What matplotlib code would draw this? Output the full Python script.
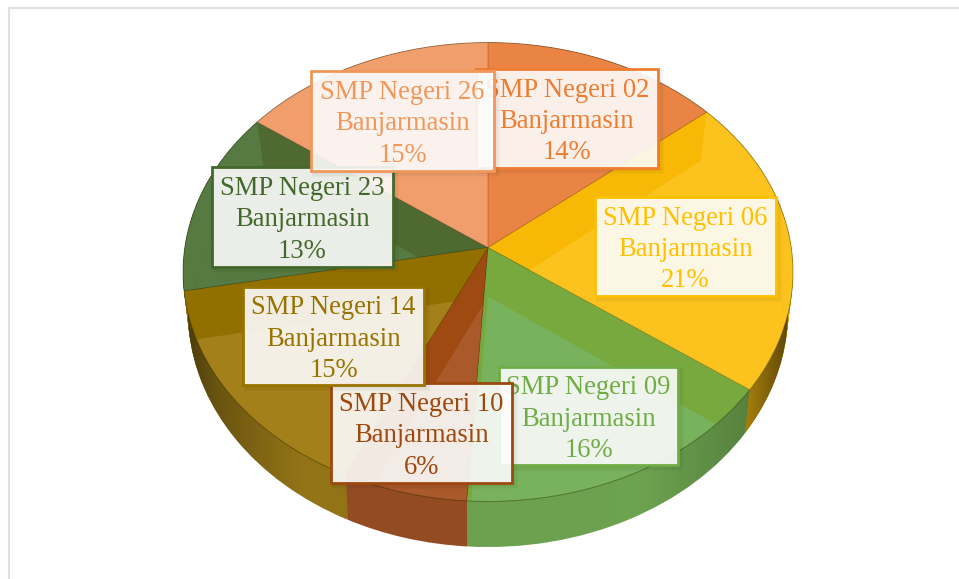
import numpy as np
import matplotlib
matplotlib.use('Agg')
import matplotlib.pyplot as plt
import matplotlib.patches as mpatches
from matplotlib.transforms import Transform

schools = ['SMP Negeri 02', 'SMP Negeri 06', 'SMP Negeri 09', 'SMP Negeri 10',
           'SMP Negeri 14', 'SMP Negeri 23', 'SMP Negeri 26']
city = 'Banjarmasin'
values = [14, 21, 16, 6, 15, 13, 15]

text_cols = ['#ed7d31', '#ffc000', '#70ad47', '#9e480e', '#997300', '#43682b', '#f1975a']
top_cols = ['#e98241', '#f8b906', '#78a93f', '#9e4a10', '#927000', '#4e6a30', '#f09c68']
light_cols = ['#ea8445', '#fcc31e', '#78b25c', '#a9592a', '#a38019', '#567a41', '#f09f6c']
side_cols = ['#c96a2a', '#d9a510', '#70a852', '#9a5024', '#9a7a18', '#4a6a30', '#d08050']

# label boxes in pixels: left, top, right, bottom
boxes = [(476, 69, 658, 168), (595, 197, 776, 296), (499, 367, 678, 465),
         (331, 383, 512, 483), (243, 287, 424, 385), (212, 167, 393, 267),
         (311, 71, 494, 171)]

W, H = 959, 579
C = 0.1068  # perspective of the disc


class Persp(Transform):
    # unit pie circle to an ellipse seen at an angle, in pixels
    input_dims = 2
    output_dims = 2

    def __init__(self, cx, cy, rx, ry, dy=0):
        super().__init__()
        self.cx, self.rx, self.ry = cx, rx, ry
        self.apex = cy - ry * C + dy

    def transform_non_affine(self, pts):
        pts = np.asarray(pts)
        d = 1 + C * pts[:, 1]
        x = self.cx + self.rx * np.sqrt(1 - C ** 2) * pts[:, 0] / d
        y = self.apex - self.ry * (1 - C ** 2) * pts[:, 1] / d
        return np.column_stack([x, y])


fig = plt.figure(figsize=(W / 100, H / 100), dpi=100)
ax = fig.add_axes([0, 0, 1, 1])


def draw_pie(tr, cols, z, **kw):
    wedges, _ = ax.pie(values, colors=cols, startangle=90, counterclock=False, **kw)
    for w in wedges:
        w.set_transform(tr + ax.transData)
        w.set_zorder(z)
    return wedges


# side wall, stacked from the bottom up
n = 30
for i in range(n):
    f = i / (n - 1)
    tr = Persp(488, 312 - 40 * f, 300 + 5 * f, 235 - 5.5 * f)
    draw_pie(tr, side_cols, 2 + f * 0.5)

# side shading, dark at both ends
bottom = Persp(488, 312, 300, 235)
grad = np.interp(np.linspace(184, 794, 300), [184, 215, 300, 640, 745, 794], [0.52, 0.32, 0.05, 0.03, 0.22, 0.6])
rgba = np.zeros((1, 300, 4))
rgba[..., 3] = grad
im = ax.imshow(rgba, extent=(184, 794, 560, 250), aspect='auto', zorder=3)
clip = mpatches.Circle((0, 0), 1, transform=bottom + ax.transData, fc='none', ec='none')
ax.add_patch(clip)
im.set_clip_path(clip)

# top of the disc: darker base, the lighter bevel shifted down inside every slice
top = Persp(488, 272, 305, 229.5)
inner = Persp(488, 272, 296, 229.5, dy=49)
top_w = draw_pie(top, top_cols, 4)
light_w = draw_pie(inner, light_cols, 5)
for w, l in zip(top_w, light_w):
    l.set_clip_on(True)
    l.set_clip_path(w.get_path(), top + ax.transData)

# light band between the rim and the shifted arc
stops = np.cumsum([0] + values) / sum(values) * 2 * np.pi
for i, w in enumerate(top_w):
    a = np.linspace(stops[i], stops[i + 1], 60)
    arc = np.column_stack([np.sin(a), np.cos(a)])
    ring = np.vstack([top.transform(arc), inner.transform(arc[::-1])])
    band = mpatches.Polygon(ring, fc=light_cols[i], ec='none', zorder=5)
    ax.add_patch(band)
    band.set_clip_path(w.get_path(), top + ax.transData)

for w in top_w:
    edge = mpatches.PathPatch(w.get_path(), fc='none', ec=(0, 0, 0, 0.12), lw=0.6,
                              transform=top + ax.transData, zorder=6)
    ax.add_patch(edge)
rim = mpatches.Circle((0, 0), 1, fc='none', ec=(0.15, 0.15, 0, 0.3), lw=0.7,
                      transform=top + ax.transData, zorder=6)
ax.add_patch(rim)

# labels
for k, (name, val, col, b) in enumerate(zip(schools, values, text_cols, boxes)):
    x0, y0, x1, y1 = b
    z = 10 + k
    for s in [5, 3.5, 2]:
        ax.add_patch(mpatches.Rectangle((x0 + 1, y0 + 1), x1 - x0 + s, y1 - y0 + s, fc=(0, 0, 0, 0.025),
                                        ec='none', zorder=z))
    ax.add_patch(mpatches.Rectangle((x0, y0), x1 - x0, y1 - y0, fc=(1, 1, 1, 0.89), ec=col,
                                    lw=2.0, zorder=z))
    ax.text((x0 + x1) / 2, (y0 + y1) / 2 + 3, f'{name}\n{city}\n{val}%', color=col, ha='center', va='center',
            family='Liberation Serif', fontsize=19.2, linespacing=1.32, zorder=z + 0.5)

# chart frame
ax.plot([9, 9, W], [H, 8, 8], color='#e0e0e0', lw=1.5, zorder=1)

ax.set_aspect('auto')
ax.set_xlim(0, W)
ax.set_ylim(H, 0)
ax.axis('off')
fig.savefig('out.png', dpi=100)
